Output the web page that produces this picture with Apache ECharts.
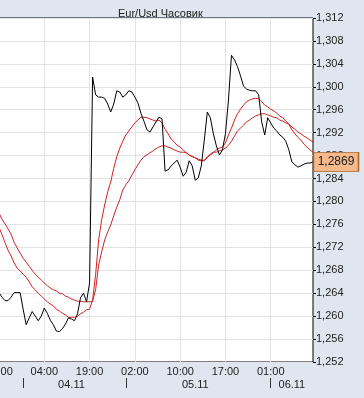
<!DOCTYPE html>
<html><head><meta charset="utf-8">
<script src="https://cdn.jsdelivr.net/npm/echarts@6/dist/echarts.min.js"></script>
<style>html,body{margin:0;padding:0;background:#dfe6ef;overflow:hidden}#c{width:364px;height:398px}</style>
</head><body><div id="c"></div>
<script>
const chartTitle = 'Eur/Usd Часовик';
const price = [1.2641,1.2633,1.2627,1.2627,1.2633,1.2641,1.2641,1.2641,1.2612,1.2585,
1.2597,1.2608,1.2600,1.2592,1.2600,1.2614,1.2605,1.2593,1.2585,1.2574,
1.2573,1.2578,1.2586,1.2597,1.2595,1.2592,1.2604,1.2632,1.2640,1.2625,
1.2658,1.3017,1.2986,1.2982,1.2982,1.2980,1.2970,1.2956,1.2970,1.2993,
1.2991,1.2982,1.2986,1.2993,1.2991,1.2982,1.2972,1.2954,1.2940,1.2925,
1.2921,1.2930,1.2939,1.2947,1.2944,1.2853,1.2855,1.2862,1.2867,1.2872,
1.2860,1.2844,1.2851,1.2871,1.2862,1.2837,1.2841,1.2862,1.2907,1.2956,
1.2946,1.2918,1.2897,1.2881,1.2890,1.2918,1.2977,1.3055,1.3047,1.3035,
1.3019,1.3001,1.2996,1.2994,1.2993,1.2993,1.2986,1.2939,1.2916,1.2946,
1.2937,1.2928,1.2923,1.2916,1.2912,1.2905,1.2890,1.2869,1.2864,1.2860,
1.2862,1.2865,1.2867,1.2867,1.2869];
const maFast = [1.2755,1.2742,1.2728,1.2715,1.2705,1.2693,1.2684,1.2679,1.2673,1.2668,
1.2660,1.2651,1.2646,1.2640,1.2635,1.2630,1.2625,1.2621,1.2618,1.2612,
1.2609,1.2605,1.2602,1.2598,1.2598,1.2598,1.2600,1.2604,1.2607,1.2611,
1.2612,1.2628,1.2672,1.2733,1.2768,1.2794,1.2817,1.2834,1.2858,1.2878,
1.2893,1.2905,1.2916,1.2923,1.2930,1.2937,1.2942,1.2947,1.2947,1.2946,
1.2944,1.2942,1.2940,1.2942,1.2937,1.2926,1.2918,1.2909,1.2904,1.2898,
1.2895,1.2890,1.2885,1.2881,1.2878,1.2876,1.2874,1.2872,1.2872,1.2878,
1.2881,1.2885,1.2890,1.2893,1.2895,1.2902,1.2916,1.2928,1.2942,1.2953,
1.2961,1.2968,1.2974,1.2977,1.2979,1.2980,1.2979,1.2974,1.2968,1.2965,
1.2961,1.2958,1.2954,1.2949,1.2946,1.2940,1.2935,1.2925,1.2918,1.2912,
1.2907,1.2900,1.2895,1.2890,1.2886];
const maSlow = [1.2780,1.2769,1.2761,1.2752,1.2743,1.2729,1.2719,1.2710,1.2701,1.2694,
1.2687,1.2680,1.2673,1.2668,1.2663,1.2658,1.2653,1.2649,1.2646,1.2644,
1.2640,1.2639,1.2635,1.2633,1.2630,1.2628,1.2626,1.2626,1.2625,1.2625,
1.2625,1.2626,1.2646,1.2689,1.2712,1.2733,1.2747,1.2759,1.2775,1.2790,
1.2803,1.2820,1.2829,1.2836,1.2846,1.2855,1.2864,1.2872,1.2878,1.2881,
1.2885,1.2888,1.2892,1.2895,1.2897,1.2897,1.2895,1.2893,1.2890,1.2888,
1.2886,1.2886,1.2885,1.2881,1.2879,1.2876,1.2872,1.2871,1.2871,1.2876,
1.2883,1.2886,1.2886,1.2888,1.2890,1.2893,1.2898,1.2905,1.2914,1.2923,
1.2928,1.2933,1.2939,1.2942,1.2946,1.2949,1.2951,1.2953,1.2953,1.2951,
1.2949,1.2947,1.2946,1.2942,1.2940,1.2937,1.2935,1.2930,1.2926,1.2921,
1.2918,1.2914,1.2911,1.2907,1.2904];
const timeLabels = ['13:00','04:00','19:00','02:00','10:00','17:00','01:00'];
const timeLabelIdx = [0,15,30,45,60,75,90];
const dateLabels = ['04.11','05.11','06.11'];
const dateLabelIdx = [24,65,97];
const dateTickIdx = [8,42,90];
const yMin = 1.252, yMax = 1.312, yStep = 0.004;

const categories = price.map((_, i) => String(i));
const FONT = 'Liberation Sans, Arial, sans-serif';
const fmtComma = (v, d) => v.toFixed(d).replace('.', ',');
const lastIdx = price.length - 1;

const chart = echarts.init(document.getElementById('c'), null, {renderer: 'canvas'});
chart.setOption({
  backgroundColor: '#dfe6ef',
  animation: false,
  title: {
    text: chartTitle, left: 113, top: 3,
    textStyle: {fontFamily: FONT, fontSize: 11, fontWeight: 'normal', color: '#222'}
  },
  grid: {
    left: -1, right: 51, top: 18, bottom: 36,
    show: true, backgroundColor: '#ffffff', borderColor: '#000', borderWidth: 1,
    containLabel: false, outerBoundsMode: 'none'
  },
  xAxis: [{
    type: 'category', data: categories, boundaryGap: false,
    axisLine: {show: false},
    axisTick: {show: false},
    axisLabel: {
      interval: (i) => timeLabelIdx.includes(i),
      formatter: (v, i) => timeLabels[timeLabelIdx.indexOf(i)] || '',
      margin: 4, color: '#222', fontFamily: FONT, fontSize: 11
    },
    splitLine: {show: true, interval: (i) => timeLabelIdx.includes(i), lineStyle: {color: '#e3e3e3', width: 1}}
  }, {
    type: 'category', data: categories, boundaryGap: false, position: 'bottom', offset: 16,
    axisLine: {show: false},
    axisTick: {show: true, interval: (i) => dateTickIdx.includes(i), length: 10, lineStyle: {color: '#333', width: 1}},
    axisLabel: {
      interval: (i) => dateLabelIdx.includes(i),
      formatter: (v, i) => dateLabels[dateLabelIdx.indexOf(i)] || '',
      margin: 1, color: '#222', fontFamily: FONT, fontSize: 11
    },
    splitLine: {show: false}
  }],
  yAxis: {
    type: 'value', position: 'right', min: yMin, max: yMax, interval: yStep, scale: true,
    axisLine: {show: false},
    axisTick: {show: true, length: 3, lineStyle: {color: '#000'}},
    axisLabel: {formatter: (v) => fmtComma(v, 3), margin: 3, color: '#222', fontFamily: FONT, fontSize: 11},
    splitLine: {show: true, lineStyle: {color: '#e3e3e3', width: 1}}
  },
  series: [{
    type: 'line', data: maSlow, symbol: 'none', xAxisIndex: 0,
    lineStyle: {color: '#c0262a', width: 1}, z: 2
  }, {
    type: 'line', data: maFast, symbol: 'none', xAxisIndex: 0,
    lineStyle: {color: '#d41e1e', width: 1}, z: 2
  }, {
    type: 'line', data: price, symbol: 'none', xAxisIndex: 0,
    lineStyle: {color: '#000000', width: 1}, z: 3,
    markPoint: {
      symbol: 'rect', symbolSize: [45, 19], symbolOffset: [23, 0],
      itemStyle: {color: '#f6b98c', borderColor: '#a8652e', borderWidth: 1},
      label: {show: true, position: 'inside', color: '#222', fontFamily: FONT, fontSize: 12,
        formatter: (p) => fmtComma(p.value, 4)},
      data: [{coord: [lastIdx, price[lastIdx]], value: price[lastIdx]}]
    }
  }]
});
</script>
</body></html>
